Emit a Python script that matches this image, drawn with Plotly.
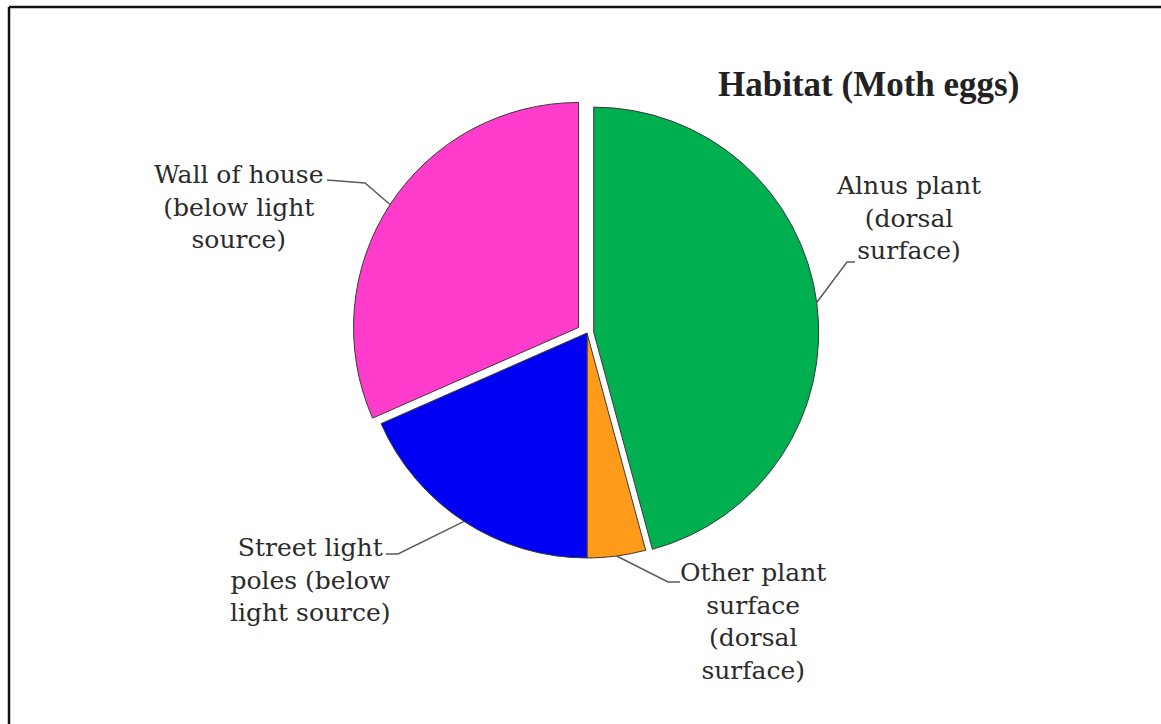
import math
import plotly.graph_objects as go

# Habitat of moth eggs (share of observations, %)
habitats = [
    "Alnus plant (dorsal surface)",
    "Other plant surface (dorsal surface)",
    "Street light poles (below light source)",
    "Wall of house (below light source)",
]
label_lines = [
    ["Alnus plant", "(dorsal", "surface)"],
    ["Other plant", "surface", "(dorsal", "surface)"],
    ["Street light", "poles (below", "light source)"],
    ["Wall of house", "(below light", "source)"],
]
shares = [45.8, 4.2, 18.4, 31.6]

colors = ["#00B050", "#FF9A1A", "#0000F2", "#FF3CCB"]
pulls = [0.03, 0.0, 0.0, 0.045]

W, H = 1161, 724
CX, CY, R = 587, 333, 225          # pie centre and radius, pixels
half = R * (1 + max(pulls))        # plotly shrinks the radius by the largest pull

def px(x):
    return x / W

def py(y):
    return 1 - y / H

fig = go.Figure(go.Pie(
    labels=habitats,
    values=shares,
    sort=False,
    direction="clockwise",
    rotation=0,
    pull=pulls,
    marker=dict(colors=colors, line=dict(color="#3a3a3a", width=1)),
    textinfo="none",
    hoverinfo="label+percent",
    showlegend=False,
    domain=dict(x=[px(CX - half), px(CX + half)],
                y=[py(CY + half), py(CY - half)]),
))

# label placement (pixels) and the bend/end points of each leader line
label_pos = [(909, 218), (753, 621), (310, 580), (239, 207)]
leader_tail = [
    [(847, 262), (855, 262)],
    [(668, 582), (680, 582)],
    [(398, 554), (386, 554)],
    [(365, 183), (327, 180)],
]

total = sum(shares)
start = 0.0
shapes = []
annotations = []
for i, v in enumerate(shares):
    sweep = 360.0 * v / total
    mid = math.radians(start + sweep / 2)
    start += sweep
    ux, uy = math.sin(mid), -math.cos(mid)
    off = R * (1 + pulls[i])
    ex, ey = CX + off * ux, CY + off * uy
    pts = [(ex, ey)] + leader_tail[i]
    path = "M {} {}".format(px(pts[0][0]), py(pts[0][1]))
    for (x, y) in pts[1:]:
        path += " L {} {}".format(px(x), py(y))
    shapes.append(dict(type="path", xref="paper", yref="paper", path=path,
                       line=dict(color="#5a5a5a", width=1.5)))
    lx, ly = label_pos[i]
    annotations.append(dict(
        x=px(lx), y=py(ly), xref="paper", yref="paper",
        text="<br>".join(label_lines[i]), showarrow=False,
        xanchor="center", yanchor="middle", align="center",
        font=dict(family="DejaVu Serif", size=25, color="#2b2b2b"),
    ))

annotations.append(dict(
    x=px(868), y=py(84), xref="paper", yref="paper",
    text="<b>Habitat (Moth eggs)</b>", showarrow=False,
    xanchor="center", yanchor="middle",
    font=dict(family="Liberation Serif", size=35, color="#222222"),
))

# chart frame: top and left edges
shapes.append(dict(type="line", xref="paper", yref="paper",
                   x0=px(9), y0=py(7), x1=1, y1=py(7),
                   line=dict(color="#111111", width=2.5)))
shapes.append(dict(type="line", xref="paper", yref="paper",
                   x0=px(9), y0=py(7), x1=px(9), y1=0,
                   line=dict(color="#111111", width=2.5)))

fig.update_layout(
    width=W, height=H,
    margin=dict(l=0, r=0, t=0, b=0),
    paper_bgcolor="white",
    plot_bgcolor="white",
    shapes=shapes,
    annotations=annotations,
)

fig.write_html("out.html")
